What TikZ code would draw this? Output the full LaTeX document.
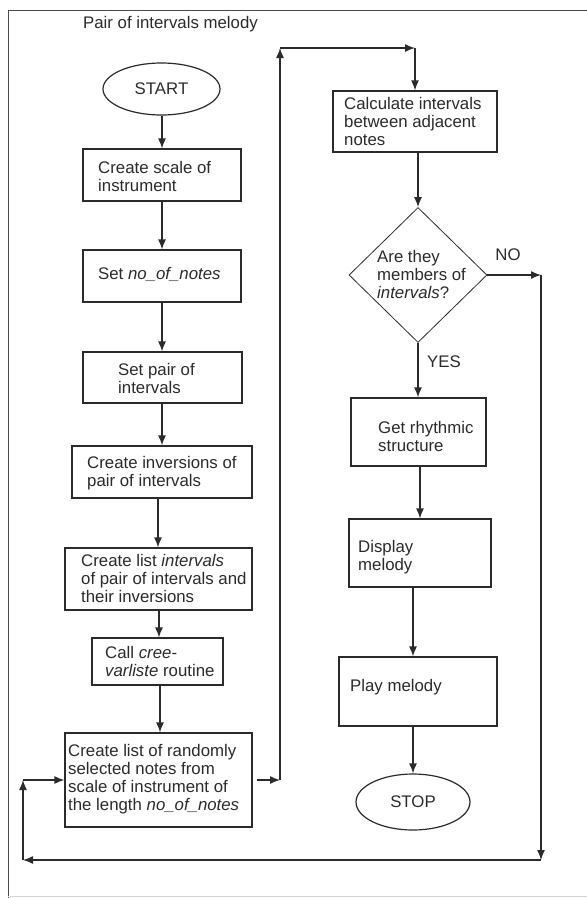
\documentclass[tikz,border=0pt]{standalone}
\usepackage{fontspec}
\setmainfont{Liberation Sans}
\usetikzlibrary{shapes.geometric,arrows.meta}

\definecolor{ink}{HTML}{2B2B2B}

\begin{document}
\begin{tikzpicture}[x=1pt,y=-1pt,
  every node/.style={font=\fontsize{16.8}{18}\selectfont, text=ink},
  box/.style={draw=ink, line width=1.2pt, rectangle, inner sep=0pt},
  oval/.style={draw=ink, line width=1.2pt, ellipse, inner sep=0pt},
  decision/.style={draw=ink, line width=0.8pt, diamond, inner sep=0pt},
  txt/.style={anchor=west, align=left, inner sep=0pt},
  flow/.style={draw=ink, line width=1.3pt, -{Latex[length=10pt,width=8pt]}},
  frame/.style={draw=ink!85, line width=0.9pt}
]
\useasboundingbox (0,0) rectangle (587,898);

% page frame
\draw[frame] (8,898) -- (8,10) -- (587,10);
\draw[ink!20, line width=0.8pt] (8,896) -- (587,896);

\node[anchor=west, inner sep=0pt] (title) at (83,24) {Pair of intervals melody};

% left column
\node[oval, minimum width=117pt, minimum height=52pt] (start) at (161.5,89) {START};
\node[box, minimum width=158pt, minimum height=52pt] (b1) at (162,175) {};
\node[box, minimum width=158pt, minimum height=52pt] (b2) at (162,276) {};
\node[box, minimum width=159pt, minimum height=51pt] (b3) at (162.5,377.5) {};
\node[box, minimum width=180pt, minimum height=52pt] (b4) at (162,472) {};
\node[box, minimum width=187pt, minimum height=62pt] (b5) at (158.5,579) {};
\node[box, minimum width=131pt, minimum height=47pt] (b6) at (157.5,661.5) {};
\node[box, minimum width=187pt, minimum height=94pt] (b7) at (158.5,780) {};

\node[txt] (t1) at (98,176) {Create scale of\\instrument};
\node[txt] (t2) at (98,274) {Set \textit{no\_of\_notes}};
\node[txt] (t3) at (118,378) {Set pair of\\intervals};
\node[txt] (t4) at (87,473) {Create inversions of\\pair of intervals};
\node[txt] (t5) at (81,578) {Create list \textit{intervals}\\of pair of intervals and\\their inversions};
\node[txt] (t6) at (105,661) {Call \textit{cree-}\\\textit{varliste} routine};
\node[txt] (t7) at (68,779) {Create list of randomly\\selected notes from\\scale of instrument of\\the length \textit{no\_of\_notes}};

% right column
\node[box, minimum width=164pt, minimum height=61pt] (b8) at (415,121.5) {};
\node[decision, minimum width=138pt, minimum height=135pt] (dia) at (418,275) {};
\node[box, minimum width=135pt, minimum height=68pt] (b9) at (418.5,432) {};
\node[box, minimum width=142pt, minimum height=68pt] (b10) at (420,553) {};
\node[box, minimum width=158pt, minimum height=69pt] (b11) at (418,691.5) {};
\node[oval, minimum width=114pt, minimum height=56pt] (stop) at (413,802) {STOP};

\node[txt] (t8) at (344,121) {Calculate intervals\\between adjacent\\notes};
\node[txt] (t9) at (377,274) {Are they\\members of\\\textit{intervals}?};
\node[txt] (t10) at (378,436) {Get rhythmic\\structure};
\node[txt] (t11) at (358,557) {Display\\melody};
\node[txt] (t12) at (350,687) {Play melody};

\node[inner sep=0pt] (no) at (508,255) {NO};
\node[txt] (yes) at (427,362) {YES};

% routing points
\coordinate (up) at (280,48);
\coordinate (rx) at (541,860);
\coordinate (lx) at (23,860);

% main flow, left column
\draw[flow] (start.south -| 162,0) -- (b1.north -| 162,0);
\draw[flow] (b1.south) -- (b2.north);
\draw[flow] (b2.south) -- (b2.south |- b3.north);
\draw[flow] (b3.south -| 162,0) -- (b4.north -| 162,0);
\draw[flow] (b4.south -| 158,0) -- (b5.north -| 158,0);
\draw[flow] (b5.south -| 159,0) -- (b6.north -| 159,0);
\draw[flow] (b6.south -| 160,0) -- (b7.north -| 160,0);

% over to the right column
\draw[flow, shorten <=4pt] (b7.east) -- (b7.east -| up);
\draw[flow] (b7.east -| up) -- (up);
\draw[flow] (up) -- (b8.north |- up);
\draw[flow] (b8.north |- up) -- (b8.north);

% main flow, right column
\draw[flow] (b8.south -| dia) -- (dia.north);
\draw[flow] (dia.south) -- (dia.south |- b9.north);
\draw[flow] (b9.south -| b10) -- (b10.north);
\draw[flow] (b10.south -| stop) -- (stop |- b11.north);
\draw[flow] (b11.south -| stop) -- (stop.north);

% NO branch back to the note list
\draw[flow] (dia.east) -- (dia.east -| rx);
\draw[flow] (dia.east -| rx) -- (rx);
\draw[flow] (rx) -- (lx);
\draw[flow] (lx) -- (lx |- b7.west);
\draw[flow] (lx |- b7.west) -- (b7.west);
\end{tikzpicture}
\end{document}
